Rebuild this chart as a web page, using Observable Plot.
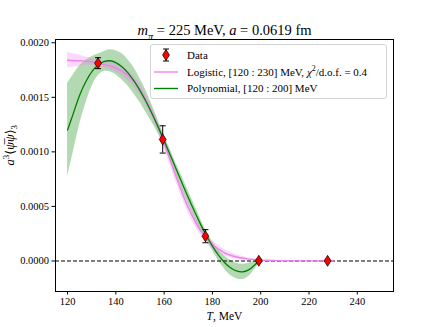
<!DOCTYPE html>
<html><head><meta charset="utf-8">
<script src="https://cdn.jsdelivr.net/npm/d3@7"></script>
<script src="https://cdn.jsdelivr.net/npm/@observablehq/plot@0.6"></script>
<style>
body{margin:0;background:#fff;}
#wrap{position:relative;width:436px;height:327px;}
#legend{position:absolute;left:150px;top:44px;width:237px;height:55px;box-sizing:border-box;background:rgba(255,255,255,0.8);border:1px solid #d4d4d4;border-radius:3px;}
#legend svg{position:absolute;left:0;top:0;}
</style></head><body><div id="wrap"><div id="chart"></div><div id="legend"></div></div>
<script>
// data points
const dataT = [132.6, 159.4, 177.1, 199.2, 227.7];
const dataY = [0.001813, 0.001114, 0.000227, 0.000002, 0.000001];
const dataErr = [0.00005, 0.000125, 0.00006, 0.00001, 0.000006];

// polynomial fit [120:200] (central value and band half-width)
const polyT  = [120,122.5,125,127.5,130,132.5,135,137.5,140,142.5,145,147.5,150,152.5,155,157.5,160,162.5,165,167.5,170,172.5,175,177.5,180,182.5,185,187.5,190,192.5,195,197.5,200];
const polyY  = [0.00120,0.00136,0.00152,0.00164,0.001733,0.001794,0.001827,0.001835,0.001818,0.001781,0.001724,0.00165,0.001562,0.001461,0.001349,0.001229,0.001103,0.000973,0.000841,0.00071,0.000581,0.000457,0.00034,0.000233,0.000136,0.000053,-0.000014,-0.000063,-0.000092,-0.0001,-0.000082,-0.000038,0.00002];
const polyHw = [0.00043,0.00035,0.00027,0.0002,0.00014,0.0001,0.00009,0.0001,0.00011,0.00012,0.00012,0.00012,0.00011,0.0001,0.00008,0.00006,0.00005,0.00005,0.00005,0.00006,0.00006,0.00006,0.00005,0.00004,0.00004,0.00005,0.00006,0.00007,0.00007,0.00007,0.00006,0.00004,0.00002];

// logistic fit [120:230]
const logT  = [120,125,130,135,140,145,150,155,160,165,170,175,180,185,190,195,200,205,210,215,220,225,230];
const logY  = [0.00184,0.001835,0.001825,0.0018,0.00177,0.0017,0.00157,0.00136,0.00108,0.00077,0.00049,0.00028,0.00015,0.000075,0.000036,0.000017,0.000008,0.000004,0.000002,0.000001,0.0000005,0.0000002,0.0000001];
const logHw = [0.00007,0.00005,0.00003,0.00003,0.00004,0.00005,0.00005,0.00005,0.00005,0.00005,0.00005,0.00004,0.00004,0.00003,0.00002,0.00001,0.000006,0.000003,0.000002,0.000001,0.000001,0.000001,0.000001];

const xTicks = [120,140,160,180,200,220,240];
const yTicks = [0,0.0005,0.001,0.0015,0.002];
const titleStr = "mπ = 225 MeV, a = 0.0619 fm";
const xLabStr = "T, MeV";
const yLabStr = "a3⟨ψ̅ψ⟩3";
const legendLabels = ["Data", "Logistic, [120 : 230] MeV, χ2/d.o.f. = 0.4", "Polynomial, [120 : 200] MeV"];

const pts = dataT.map((t,i)=>({T:t, y:dataY[i], lo:dataY[i]-dataErr[i], hi:dataY[i]+dataErr[i]}));
const poly = polyT.map((t,i)=>({T:t, y:polyY[i], lo:polyY[i]-polyHw[i], hi:polyY[i]+polyHw[i]}));
const logi = logT.map((t,i)=>({T:t, y:logY[i], lo:logY[i]-logHw[i], hi:logY[i]+logHw[i]}));

const diamond = {draw(ctx){ctx.moveTo(0,-5.5);ctx.lineTo(3.4,0);ctx.lineTo(0,5.5);ctx.lineTo(-3.4,0);ctx.closePath();}};
const cap = {draw(ctx){ctx.moveTo(-3,0);ctx.lineTo(3,0);}};

const FONT = '"Liberation Serif", "DejaVu Serif", serif';

const chart = Plot.plot({
  width:436, height:327,
  marginLeft:55, marginRight:43, marginTop:39, marginBottom:36,
  style:{fontFamily:FONT, fontSize:"10.5px", background:"white", color:"black"},
  x:{domain:[115,255]},
  y:{domain:[-0.00028,0.00203]},
  marks:[
    Plot.areaY(poly,{x:"T", y1:"lo", y2:"hi", fill:"green", fillOpacity:0.3, curve:"catmull-rom"}),
    Plot.areaY(logi,{x:"T", y1:"lo", y2:"hi", fill:"violet", fillOpacity:0.3, curve:"catmull-rom"}),
    Plot.ruleY([0],{stroke:"black", strokeWidth:1.1, strokeDasharray:"4,2"}),
    Plot.lineY(logi,{x:"T", y:"y", stroke:"violet", strokeWidth:1.4, curve:"catmull-rom"}),
    Plot.lineY(poly,{x:"T", y:"y", stroke:"green", strokeWidth:1.3, curve:"catmull-rom"}),
    Plot.ruleX(pts,{x:"T", y1:"lo", y2:"hi", stroke:"black", strokeWidth:1}),
    Plot.dot(pts,{x:"T", y:"lo", symbol:cap, stroke:"black", strokeWidth:1}),
    Plot.dot(pts,{x:"T", y:"hi", symbol:cap, stroke:"black", strokeWidth:1}),
    Plot.dot(pts,{x:"T", y:"y", symbol:diamond, fill:"red", stroke:"black", strokeWidth:0.7}),
    Plot.frame({stroke:"black", strokeWidth:1}),
    Plot.axisX(xTicks,{tickSize:3.5, tickPadding:3, label:null, fontSize:10.5}),
    Plot.axisY(yTicks,{tickSize:3.5, tickPadding:3, label:null, tickFormat:d3.format(".4f"), fontSize:10.5}),
    Plot.text([titleStr],{frameAnchor:"top", lineAnchor:"middle", dy:-9, fontSize:14.5}),
    Plot.text([xLabStr],{frameAnchor:"bottom", lineAnchor:"middle", dy:25, fontSize:11.5}),
    Plot.text([yLabStr],{frameAnchor:"left", lineAnchor:"middle", dx:-46, rotate:-90, fontSize:12.5})
  ]
});
document.getElementById("chart").appendChild(chart);

// rich text helper
function rich(el, segs, baseSize){
  const s = d3.select(el);
  s.text(null);
  let off = 0;
  segs.forEach(g=>{
    const t = s.append("tspan").text(g.t);
    if (g.i) t.attr("font-style","italic");
    let target = 0, fs = baseSize;
    if (g.sub){ target = baseSize*0.3; fs = baseSize*0.72; }
    if (g.sup){ target = -baseSize*0.4; fs = baseSize*0.72; }
    t.attr("font-size", fs);
    if (target !== off){ t.attr("dy", target-off); off = target; }
  });
}
d3.select(chart).selectAll("text").each(function(){
  const txt = this.textContent;
  if (txt === titleStr) rich(this,[{t:"m",i:1},{t:"π",i:1,sub:1},{t:" = 225 MeV, "},{t:"a",i:1},{t:" = 0.0619 fm"}],14.5);
  else if (txt === xLabStr) rich(this,[{t:"T",i:1},{t:", MeV"}],11.5);
  else if (txt === yLabStr) rich(this,[{t:"a",i:1},{t:"3",sup:1},{t:"⟨"},{t:"ψ̅",i:1},{t:"ψ",i:1},{t:"⟩"},{t:"3",sub:1}],12.5);
});

// legend
const lg = d3.select("#legend").append("svg").attr("width",237).attr("height",55)
  .style("font-family",FONT).style("font-size","11px");
const rowY = [10, 27, 43.5];
lg.append("line").attr("x1",15).attr("x2",15).attr("y1",rowY[0]-6).attr("y2",rowY[0]+6).attr("stroke","black");
lg.append("line").attr("x1",12).attr("x2",18).attr("y1",rowY[0]-6).attr("y2",rowY[0]-6).attr("stroke","black");
lg.append("line").attr("x1",12).attr("x2",18).attr("y1",rowY[0]+6).attr("y2",rowY[0]+6).attr("stroke","black");
lg.append("path").attr("d",`M15,${rowY[0]-5.5}L18.4,${rowY[0]}L15,${rowY[0]+5.5}L11.6,${rowY[0]}Z`).attr("fill","red").attr("stroke","black").attr("stroke-width",0.7);
lg.append("line").attr("x1",3).attr("x2",27).attr("y1",rowY[1]).attr("y2",rowY[1]).attr("stroke","violet").attr("stroke-width",1.4);
lg.append("line").attr("x1",3).attr("x2",27).attr("y1",rowY[2]).attr("y2",rowY[2]).attr("stroke","green").attr("stroke-width",1.4);
const lt = legendLabels.map((s,i)=>lg.append("text").attr("x",36).attr("y",rowY[i]).attr("dy","0.35em").text(s));
rich(lt[1].node(),[{t:"Logistic, [120 : 230] MeV, "},{t:"χ",i:1},{t:"2",sup:1},{t:"/d.o.f. = 0.4"}],11);
</script>
</body></html>
